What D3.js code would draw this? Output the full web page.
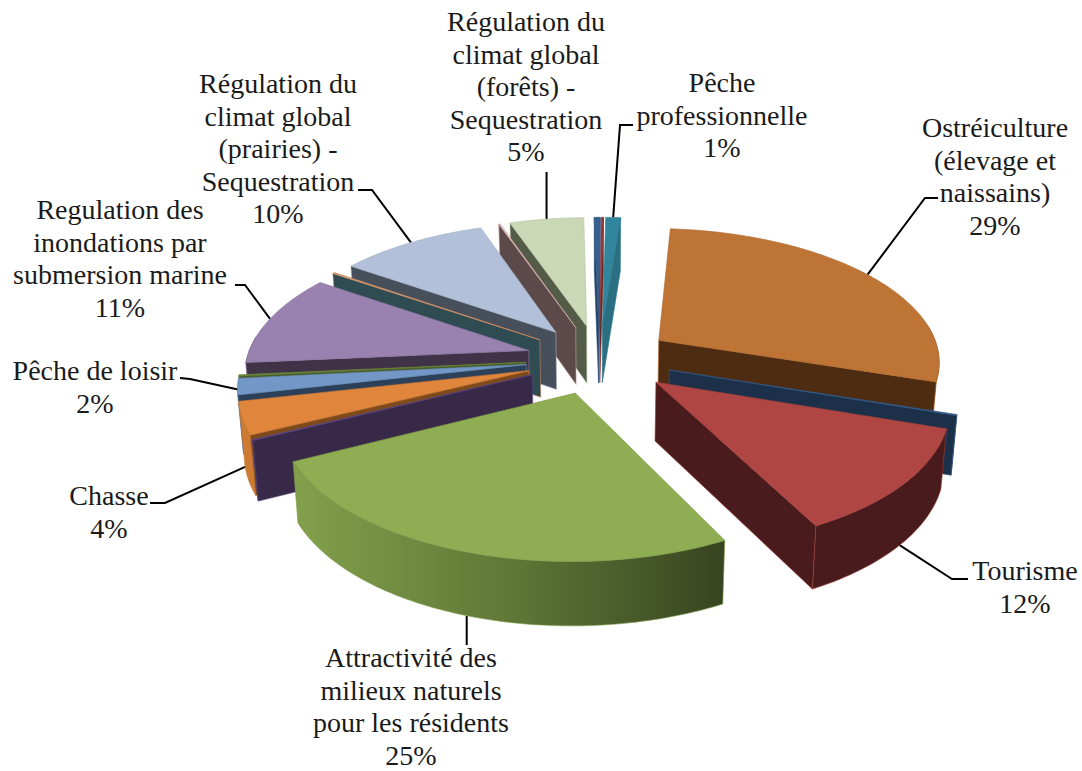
<!DOCTYPE html>
<html>
<head>
<meta charset="utf-8">
<script src="https://cdnjs.cloudflare.com/ajax/libs/d3/7.8.5/d3.min.js"></script>
<style>
  html, body { margin: 0; padding: 0; background: #fff; }
  text { font-family: "Liberation Serif", serif; font-size: 28px; fill: #1a1a1a; }
</style>
</head>
<body>
<div id="chart"></div>
<script>
// Size
var width = 1082;
var height = 771;

// values in percent, clockwise from the Ostreiculture slice
// the very small ones have no label in the picture, only their wall shows
var names = ["Ostréiculture", "s1", "Tourisme", "Attractivité", "s2", "Chasse", "Pêche de loisir", "s3",
             "Regulation", "s4", "Prairies", "s5", "Forêts", "s6", "s7", "Pêche professionnelle"];
var values = [28.9, 0.1, 12.4, 25.2, 0.1, 3.8, 1.9, 0.15, 11, 0.15, 10, 0.1, 5, 0.4, 0.15, 1];

var topColors  = ["#BE7434", "#376092", "#AF4644", "#8FAD52", "#5F4A8B", "#E0853C", "#7398C7", "#6F8B3E",
                  "#9982B0", "#D89A70", "#B2C1D9", "#E0B8B5", "#CBD8B5", "#376092", "#953735", "#31859C"];
var wallColors = ["#4E2C12", "#1C3149", "#4A1B1C", "#3E4C22", "#372947", "#7E4A1C", "#2C4059", "#4A5C2A",
                  "#403348", "#2F4C52", "#474F5B", "#5C4A4A", "#545C48", "#23405F", "#632422", "#2B6F83"];
var rimColors  = ["#8A5020", "#1C3149", "#4A1B1C", "url(#greenRim)", "#372947", "#CD7A33", "#2C4059", "#4A5C2A",
                  "#403348", "#2F4C52", "#474F5B", "#5C4A4A", "#545C48", "#23405F", "#632422", "#2B6F83"];

// labels: slice index, text lines, centre x, first baseline, elbow and end of the leader
var labelSlices = [15, 0, 2, 3, 5, 6, 8, 10, 12];
var labelLines = [
  ["Pêche", "professionnelle", "1%"],
  ["Ostréiculture", "(élevage et", "naissains)", "29%"],
  ["Tourisme", "12%"],
  ["Attractivité des", "milieux naturels", "pour les résidents", "25%"],
  ["Chasse", "4%"],
  ["Pêche de loisir", "2%"],
  ["Regulation des", "inondations par", "submersion marine", "11%"],
  ["Régulation du", "climat global", "(prairies) -", "Sequestration", "10%"],
  ["Régulation du", "climat global", "(forêts) -", "Sequestration", "5%"]
];
var labelX = [722, 995, 1025, 411, 109, 95, 120, 278, 526];
var labelY = [92, 137, 580, 667, 505, 380, 219, 93, 31];
// null x means the leader goes straight up or down from the slice
var leaderElbows = [[[633, 125], [620, 125]], [[938, 198], [925, 198]], [[968, 579], [952, 579]],
                    [[null, 645], [null, 645]], [[150, 503], [165, 503]], [[180, 378], [190, 379]],
                    [[235, 285], [245, 285]], [[358, 190], [372, 190]], [[null, 172], [null, 172]]];
var leaderDrop = [0, 0, 1, 1, 0.8, 0.05, 0, 0, 0];

// 3D view of the pie
var cx = 599, cy = 359;         // centre of the pie
var rx = 282, ry = 133;         // ellipse of the top face
var perspective = 0.145;
var explode = 0.26;             // how far the slices are pulled out
var depth = 58;                 // height of the walls
var wallLean = 0.016;           // walls lean in a little toward the bottom
var firstAngle = 4.5 * Math.PI / 180;

function project(px, py, z) {
  var s = 1 / (1 - perspective * py);
  var drop = depth * z * (1 + (s - 1) * 0.5);
  return [cx + rx * px * s * (1 - wallLean * z), cy + ry * py * s + drop];
}

var pie = d3.pie().sort(null).startAngle(firstAngle).endAngle(firstAngle + 2 * Math.PI);
var arcs = pie(values);

arcs.forEach(function(d, i) {
  d.index = i;
  d.mid = (d.startAngle + d.endAngle) / 2;
  d.ox = explode * Math.sin(d.mid);
  d.oy = -explode * Math.cos(d.mid);
});

function rimPoint(d, a, z) {
  return project(d.ox + Math.sin(a), d.oy - Math.cos(a), z);
}
function apexPoint(d, z) {
  return project(d.ox, d.oy, z);
}
function rimAngles(d) {
  var n = Math.max(2, Math.ceil((d.endAngle - d.startAngle) / 0.02));
  return d3.range(n + 1).map(function(k) { return d.startAngle + (d.endAngle - d.startAngle) * k / n; });
}

var line = d3.line();
var closedPath = function(pts) { return line(pts) + "Z"; };

var svg = d3.select("#chart").append("svg")
  .attr("width", width)
  .attr("height", height);

var grad = svg.append("defs").append("linearGradient")
  .attr("id", "greenRim")
  .attr("gradientUnits", "userSpaceOnUse")
  .attr("x1", 295).attr("x2", 725).attr("y1", 0).attr("y2", 0);
grad.append("stop").attr("offset", 0).attr("stop-color", "#82A04C");
grad.append("stop").attr("offset", 0.5).attr("stop-color", "#5F7837");
grad.append("stop").attr("offset", 1).attr("stop-color", "#374420");

// leaders go under the slices
var leaders = svg.append("g");
labelSlices.forEach(function(si, i) {
  var d = arcs[si];
  var end = rimPoint(d, d.mid, leaderDrop[i]);
  var pts = leaderElbows[i].map(function(p) { return [p[0] == null ? end[0] : p[0], p[1]]; });
  leaders.append("path")
    .attr("d", line(pts.concat([end])))
    .attr("fill", "none")
    .attr("stroke", "#000")
    .attr("stroke-width", 2);
});

// back slices first
var order = arcs.slice().sort(function(a, b) {
  return d3.ascending(-Math.cos(a.mid), -Math.cos(b.mid));
});

var slices = svg.append("g").selectAll("g")
  .data(order)
  .enter()
  .append("g");

slices.each(function(d) {
  var g = d3.select(this);
  var edgeStroke = d3.color(topColors[d.index]).darker(0.3);
  var angles = rimAngles(d);

  // outer wall, only the part turned toward the viewer
  var front = angles.filter(function(a) { return Math.cos(a) < 0.12; });
  if (front.length > 1) {
    var outer = front.map(function(a) { return rimPoint(d, a, 0); });
    var lower = front.slice().reverse().map(function(a) { return rimPoint(d, a, 1); });
    g.append("path")
      .attr("d", closedPath(outer.concat(lower)))
      .attr("fill", rimColors[d.index])
      .attr("stroke", edgeStroke)
      .attr("stroke-width", 0.6);
  }

  // the two flat sides, only when they face the viewer
  [[d.startAngle, -1], [d.endAngle, 1]].forEach(function(side) {
    var quad = [apexPoint(d, 0), rimPoint(d, side[0], 0), rimPoint(d, side[0], 1), apexPoint(d, 1)];
    // polygonArea is negative for a clockwise quad on screen
    if (-d3.polygonArea(quad) * side[1] > 0) {
      g.append("path")
        .attr("d", closedPath(quad))
        .attr("fill", wallColors[d.index])
        .attr("stroke", edgeStroke)
        .attr("stroke-width", 0.6);
    }
  });

  // top face
  var upper = angles.map(function(a) { return rimPoint(d, a, 0); });
  g.append("path")
    .attr("d", closedPath([apexPoint(d, 0)].concat(upper)))
    .attr("fill", topColors[d.index])
    .attr("stroke", edgeStroke)
    .attr("stroke-width", 0.6);
});

// labels
labelLines.forEach(function(lines, i) {
  var t = svg.append("text")
    .attr("text-anchor", "middle")
    .attr("x", labelX[i])
    .attr("y", labelY[i]);
  lines.forEach(function(s, k) {
    t.append("tspan")
      .attr("x", labelX[i])
      .attr("dy", k == 0 ? 0 : 32.6)
      .text(s);
  });
});
</script>
</body>
</html>
